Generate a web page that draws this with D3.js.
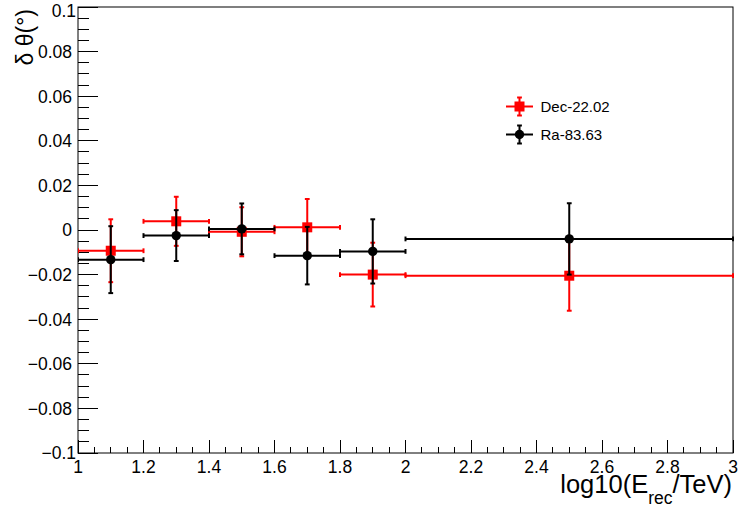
<!DOCTYPE html>
<html>
<head>
<meta charset="utf-8">
<script src="https://cdn.jsdelivr.net/npm/d3@7"></script>
<style>
  html, body { margin: 0; padding: 0; background: #fff; }
  svg { display: block; font-family: "Liberation Sans", Arial, sans-serif; }
</style>
</head>
<body>
<svg id="chart" width="738" height="512"></svg>
<script>
// ---- data ----
const binLow    = [1.0, 1.2, 1.4, 1.6, 1.8, 2.0];
const binHigh   = [1.2, 1.4, 1.6, 1.8, 2.0, 3.0];
const binCenter = [1.1, 1.3, 1.5, 1.7, 1.9, 2.5];
const decValues = [-0.0093, 0.0039, -0.0008, 0.0012, -0.0200, -0.0205];
const decErrors = [0.0141, 0.0110, 0.0110, 0.0127, 0.0143, 0.0157];
const raValues  = [-0.0133, -0.0025, 0.0005, -0.0115, -0.0096, -0.0040];
const raErrors  = [0.0150, 0.0114, 0.0114, 0.0129, 0.0144, 0.0160];
const seriesNames = ["Dec-22.02", "Ra-83.63"];
const xTickValues = [1, 1.2, 1.4, 1.6, 1.8, 2, 2.2, 2.4, 2.6, 2.8, 3];
const yTickValues = [-0.1, -0.08, -0.06, -0.04, -0.02, 0, 0.02, 0.04, 0.06, 0.08, 0.1];

// ---- layout ----
const svg = d3.select("#chart");
const L = 78, R = 733, T = 7, B = 453;
const x = d3.scaleLinear().domain([1, 3]).range([L, R]);
const y = d3.scaleLinear().domain([-0.1, 0.1]).range([B, T]);
const tickFont = 17.5;

// frame
svg.append("rect").attr("x", L).attr("y", T).attr("width", R - L).attr("height", B - T)
  .attr("fill", "none").attr("stroke", "#000").attr("stroke-width", 1);

// x minor + major ticks
const xMinor = d3.range(0, 41).map(i => 1 + i * 0.05);
svg.append("g").selectAll("line").data(xMinor).join("line")
  .attr("x1", d => x(d)).attr("x2", d => x(d))
  .attr("y1", B).attr("y2", (d, i) => i % 4 === 0 ? B - 13 : B - 6.5)
  .attr("stroke", "#000").attr("stroke-width", 1).attr("shape-rendering", "crispEdges");
svg.append("g").selectAll("text").data(xTickValues).join("text")
  .attr("x", d => x(d)).attr("y", 473).attr("text-anchor", "middle")
  .attr("font-size", tickFont).text(d => String(+d.toFixed(1)));

// y minor + major ticks
const yMinor = d3.range(0, 41).map(i => -0.1 + i * 0.005);
svg.append("g").selectAll("line").data(yMinor).join("line")
  .attr("y1", d => y(d)).attr("y2", d => y(d))
  .attr("x1", L).attr("x2", (d, i) => i % 4 === 0 ? L + 20 : L + 11)
  .attr("stroke", "#000").attr("stroke-width", 1).attr("shape-rendering", "crispEdges");
svg.append("g").selectAll("text").data(yTickValues).join("text")
  .attr("x", d => Math.abs(Math.abs(d) - 0.1) < 1e-9 ? 76 : 72)
  .attr("y", d => y(d) + 6.3 + (Math.abs(d - 0.1) < 1e-9 ? 4 : 0))
  .attr("text-anchor", "end").attr("font-size", tickFont)
  .text(d => {
    const v = +d.toFixed(2);
    const s = String(Math.abs(v));
    return v < 0 ? "\u2212" + s : s;
  });

// axis titles
const xt = svg.append("text").attr("x", 732).attr("y", 493).attr("text-anchor", "end")
  .attr("font-size", 25.5);
xt.append("tspan").text("log10(E");
xt.append("tspan").attr("font-size", 17.5).attr("dy", 11).text("rec");
xt.append("tspan").attr("dy", -11).text("/TeV)");

svg.append("text").attr("transform", "translate(33,9) rotate(-90)")
  .attr("text-anchor", "end").attr("font-size", 23).text("\u03b4 \u03b8(\u00b0)");

// clip
svg.append("clipPath").attr("id", "clip").append("rect")
  .attr("x", L).attr("y", T).attr("width", R - L + 1).attr("height", B - T);

// ---- series ----
const series = [
  { name: seriesNames[0], vals: decValues, errs: decErrors, color: "#ff0000", marker: "square" },
  { name: seriesNames[1], vals: raValues, errs: raErrors, color: "#000000", marker: "circle" }
];
const cap = 2.4;
const sq = 10, cr = 4.7;
const plot = svg.append("g").attr("clip-path", "url(#clip)");

series.forEach(s => {
  const g = plot.append("g");
  const pts = binCenter.map((c, i) => ({ c, lo: binLow[i], hi: binHigh[i], v: s.vals[i], e: s.errs[i] }));
  g.selectAll(".h").data(pts).join("line")
    .attr("x1", d => x(d.lo)).attr("x2", d => x(d.hi))
    .attr("y1", d => y(d.v)).attr("y2", d => y(d.v))
    .attr("stroke", s.color).attr("stroke-width", 2);
  g.selectAll(".hc").data(pts.flatMap(d => [{ xv: d.lo, v: d.v }, { xv: d.hi, v: d.v }])).join("line")
    .attr("x1", d => x(d.xv)).attr("x2", d => x(d.xv))
    .attr("y1", d => y(d.v) - cap).attr("y2", d => y(d.v) + cap)
    .attr("stroke", s.color).attr("stroke-width", 2);
  g.selectAll(".v").data(pts).join("line")
    .attr("x1", d => x(d.c)).attr("x2", d => x(d.c))
    .attr("y1", d => y(d.v + d.e)).attr("y2", d => y(d.v - d.e))
    .attr("stroke", s.color).attr("stroke-width", 2);
  g.selectAll(".vc").data(pts.flatMap(d => [{ c: d.c, yv: d.v + d.e }, { c: d.c, yv: d.v - d.e }])).join("line")
    .attr("x1", d => x(d.c) - cap).attr("x2", d => x(d.c) + cap)
    .attr("y1", d => y(d.yv)).attr("y2", d => y(d.yv))
    .attr("stroke", s.color).attr("stroke-width", 2);
  if (s.marker === "square") {
    g.selectAll(".m").data(pts).join("rect")
      .attr("x", d => x(d.c) - sq / 2).attr("y", d => y(d.v) - sq / 2)
      .attr("width", sq).attr("height", sq).attr("fill", s.color);
  } else {
    g.selectAll(".m").data(pts).join("circle")
      .attr("cx", d => x(d.c)).attr("cy", d => y(d.v)).attr("r", cr).attr("fill", s.color);
  }
});

// ---- legend ----
const legY = [106.5, 134.5];
series.forEach((s, i) => {
  const g = svg.append("g");
  const cx = 519.5, cy = legY[i];
  g.append("line").attr("x1", 506).attr("x2", 533).attr("y1", cy).attr("y2", cy)
    .attr("stroke", s.color).attr("stroke-width", 2);
  g.append("line").attr("x1", cx).attr("x2", cx).attr("y1", cy - 9).attr("y2", cy + 9)
    .attr("stroke", s.color).attr("stroke-width", 2);
  [cy - 9, cy + 9].forEach(yy => g.append("line").attr("x1", cx - cap).attr("x2", cx + cap)
    .attr("y1", yy).attr("y2", yy).attr("stroke", s.color).attr("stroke-width", 2));
  if (s.marker === "square") {
    g.append("rect").attr("x", cx - sq / 2).attr("y", cy - sq / 2).attr("width", sq).attr("height", sq).attr("fill", s.color);
  } else {
    g.append("circle").attr("cx", cx).attr("cy", cy).attr("r", cr).attr("fill", s.color);
  }
  g.append("text").attr("x", 540.5).attr("y", cy + 5.5).attr("font-size", 15).text(s.name);
});
</script>
</body>
</html>
